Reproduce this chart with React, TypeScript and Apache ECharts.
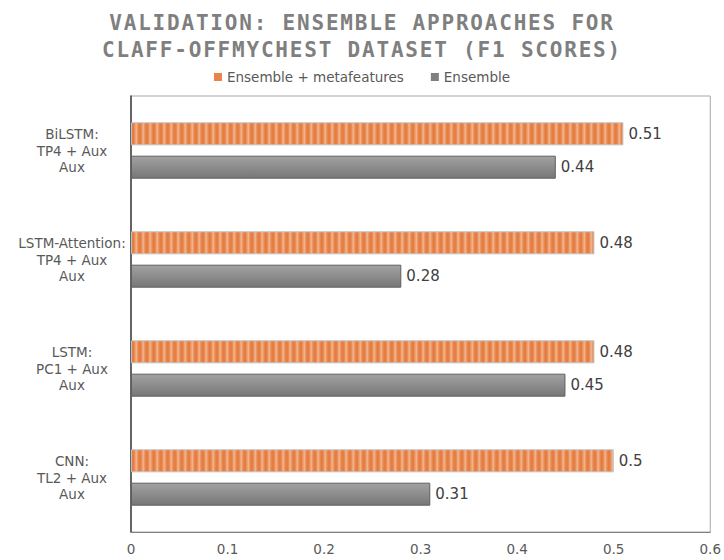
import React, { useEffect, useRef } from "react";
import * as echarts from "echarts";

const titleText = "VALIDATION: ENSEMBLE APPROACHES FOR\nCLAFF-OFFMYCHEST DATASET (F1 SCORES)";
const categories = [
  "BiLSTM:\nTP4 + Aux\nAux",
  "LSTM-Attention:\nTP4 + Aux\nAux",
  "LSTM:\nPC1 + Aux\nAux",
  "CNN:\nTL2 + Aux\nAux",
];
const seriesNames = ["Ensemble + metafeatures", "Ensemble"];
const metaValues = [0.51, 0.48, 0.48, 0.5];
const ensembleValues = [0.44, 0.28, 0.45, 0.31];
const xMin = 0;
const xMax = 0.6;
const xInterval = 0.1;

function makeStripe(): HTMLCanvasElement {
  const c = document.createElement("canvas");
  const cols = ["#e57f44", "#ea8e57", "#efa478", "#f2b18b", "#ec9865", "#e7874f", "#e57d41"];
  c.width = cols.length;
  c.height = 4;
  const ctx = c.getContext("2d")!;
  cols.forEach((col, i) => {
    ctx.fillStyle = col;
    ctx.fillRect(i, 0, 1, 4);
  });
  return c;
}

export default function App() {
  const ref = useRef<HTMLDivElement>(null);
  useEffect(() => {
    if (!ref.current) return;
    const chart = echarts.init(ref.current, undefined, { renderer: "svg" });
    const stripe = makeStripe();
    const labelStyle = {
      show: true,
      position: "right" as const,
      distance: 5,
      color: "#404040",
      fontSize: 15,
      fontFamily: "DejaVu Sans",
    };
    chart.setOption({
      animation: false,
      backgroundColor: "#ffffff",
      title: {
        text: titleText,
        left: "center",
        top: 4,
        textStyle: {
          fontFamily: "DejaVu Sans Mono",
          fontWeight: "bold",
          fontSize: 21,
          lineHeight: 27,
          color: "#7f7f7f",
        },
      },
      legend: {
        top: 65,
        left: "center",
        itemWidth: 8,
        itemHeight: 8,
        itemGap: 27,
        icon: "rect",
        textStyle: { color: "#595959", fontSize: 13.5, fontFamily: "DejaVu Sans" },
        data: [
          { name: seriesNames[0], itemStyle: { color: "#e8844a", borderWidth: 0 } },
          { name: seriesNames[1], itemStyle: { color: "#7f7f7f", borderWidth: 0 } },
        ],
      },
      grid: {
        left: 131,
        right: 11,
        top: 96,
        bottom: 28,
        show: true,
        borderColor: "#a6a6a6",
        borderWidth: 1,
      },
      xAxis: {
        type: "value",
        min: xMin,
        max: xMax,
        interval: xInterval,
        axisLine: { show: true, lineStyle: { color: "#808080" } },
        axisTick: { show: false },
        splitLine: { show: false },
        axisLabel: {
          color: "#595959",
          fontSize: 13.5,
          fontFamily: "DejaVu Sans",
          margin: 10,
        },
      },
      yAxis: {
        type: "category",
        inverse: true,
        data: categories,
        axisLine: { show: true, lineStyle: { color: "#404040", width: 1.5 } },
        axisTick: { show: false },
        axisLabel: {
          color: "#595959",
          fontSize: 13.5,
          fontFamily: "DejaVu Sans",
          lineHeight: 16.5,
          align: "center",
          margin: 59,
        },
      },
      series: [
        {
          name: seriesNames[0],
          type: "bar",
          data: metaValues,
          barWidth: 23,
          barGap: "45%",
          itemStyle: {
            color: { image: stripe, repeat: "repeat" },
            borderColor: "#c0c0c0",
            borderWidth: 1,
          },
          label: labelStyle,
        },
        {
          name: seriesNames[1],
          type: "bar",
          data: ensembleValues,
          barWidth: 23,
          itemStyle: {
            color: new echarts.graphic.LinearGradient(0, 0, 0, 1, [
              { offset: 0, color: "#a2a2a2" },
              { offset: 1, color: "#777777" },
            ]),
            borderColor: "#5f5f5f",
            borderWidth: 1,
          },
          label: labelStyle,
        },
      ],
    });
    return () => chart.dispose();
  }, []);
  return (
    <div>
      <style>{`text[style*="Mono"]{letter-spacing:1.8px;}`}</style>
      <div ref={ref} style={{ width: 724, height: 560, position: "absolute", left: 0, top: 0 }} />
    </div>
  );
}
